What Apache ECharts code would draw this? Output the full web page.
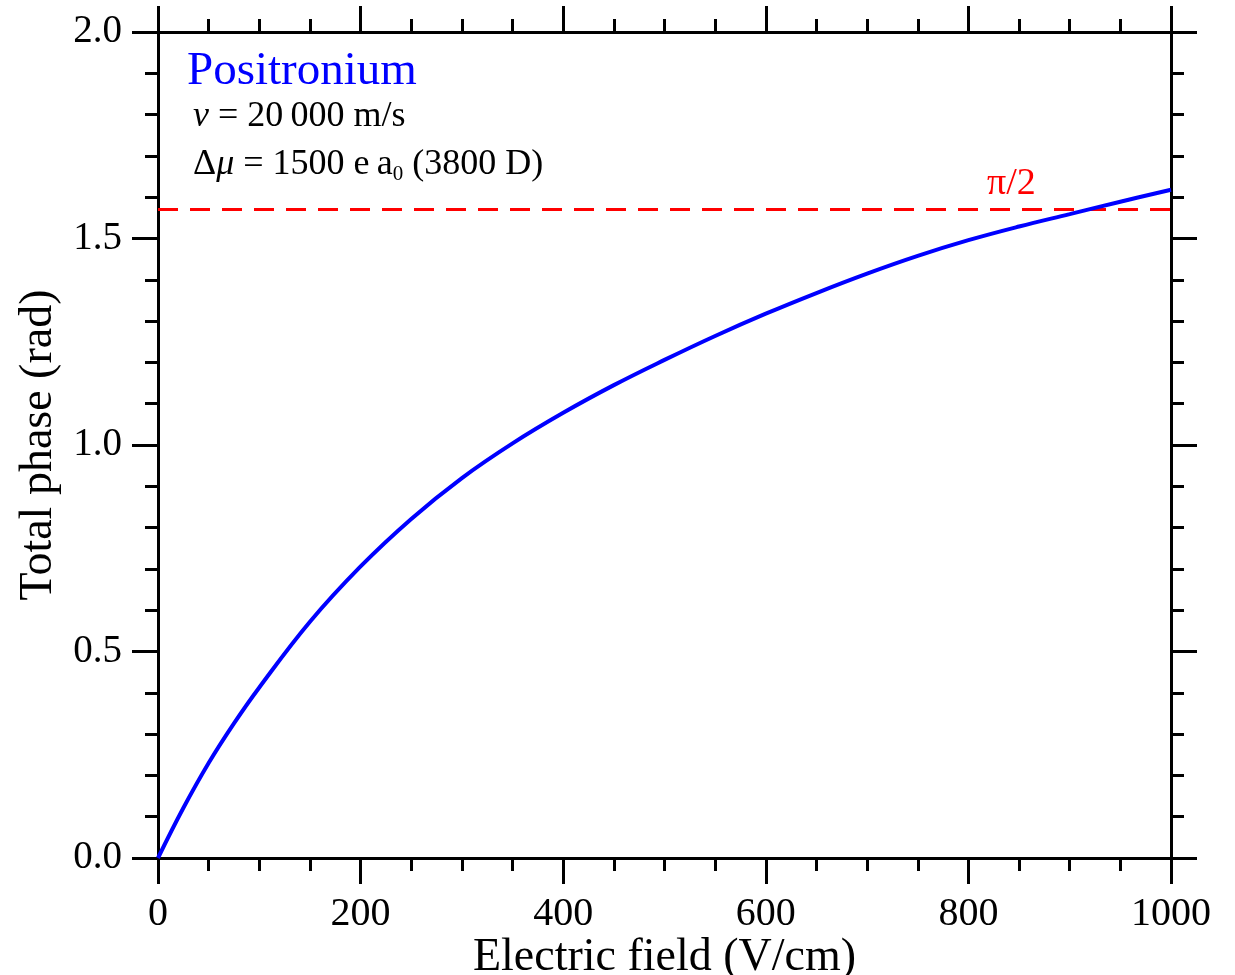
<!DOCTYPE html>
<html>
<head>
<meta charset="utf-8">
<style>
  html, body { margin: 0; padding: 0; background: #fff; overflow: hidden; }
  #chart { width: 1235px; height: 975px; }
</style>
<script src="https://cdn.jsdelivr.net/npm/echarts@6/dist/echarts.min.js"></script>
</head>
<body>
<div id="chart"></div>
<script>
// Electric field (V/cm)
const fields = [0, 25, 50, 75, 100, 150, 200, 250, 300, 350, 400, 450, 500,
                550, 600, 650, 700, 750, 800, 850, 900, 950, 1000];
// Total accumulated phase (rad)
const phase = [0, 0.121, 0.230, 0.326, 0.413, 0.572, 0.706, 0.821, 0.920, 1.004, 1.078,
               1.145, 1.206, 1.264, 1.318, 1.368, 1.415, 1.458, 1.496, 1.529, 1.559,
               1.589, 1.618];
const xTicks = [0, 200, 400, 600, 800, 1000];
const yTicks = [0.0, 0.5, 1.0, 1.5, 2.0];
const halfPi = Math.PI / 2;

const SERIF = '"Liberation Serif", "DejaVu Serif", serif';
const BLACK = '#000';

function axisCommon(extra) {
  return Object.assign({
    axisLine: { show: true, onZero: false, lineStyle: { color: BLACK, width: 3 } },
    axisTick: { show: true, inside: false, length: 26, lineStyle: { color: BLACK, width: 3 } },
    splitLine: { show: false },
    minorSplitLine: { show: false }
  }, extra);
}

function minor(n) {
  return { show: true, splitNumber: n, length: 13, lineStyle: { color: BLACK, width: 3 } };
}

const chart = echarts.init(document.getElementById('chart'), null, { renderer: 'canvas' });

chart.setOption({
  backgroundColor: '#fff',
  animation: false,
  grid: { left: 158, right: 64, top: 32, bottom: 117, outerBoundsMode: 'none', containLabel: false },
  xAxis: [
    axisCommon({
      type: 'value', position: 'bottom', min: xTicks[0], max: xTicks[xTicks.length - 1],
      interval: 200, minorTick: minor(4),
      name: 'Electric field (V/cm)', nameLocation: 'middle', nameGap: 77, nameMoveOverlap: false,
      nameTextStyle: { fontFamily: SERIF, fontSize: 46, color: BLACK },
      axisLabel: { show: true, margin: 36, fontFamily: SERIF, fontSize: 40, color: BLACK,
                   formatter: v => String(v) }
    }),
    axisCommon({
      type: 'value', position: 'top', min: xTicks[0], max: xTicks[xTicks.length - 1],
      interval: 200, minorTick: minor(4),
      axisLabel: { show: false }
    })
  ],
  yAxis: [
    axisCommon({
      type: 'value', position: 'left', min: yTicks[0], max: yTicks[yTicks.length - 1],
      interval: 0.5, minorTick: minor(5),
      name: 'Total phase (rad)', nameLocation: 'middle', nameGap: 96, nameRotate: 90,
      nameTextStyle: { fontFamily: SERIF, fontSize: 46, color: BLACK },
      axisLabel: { show: true, margin: 36, fontFamily: SERIF, fontSize: 39, color: BLACK,
                   formatter: v => v.toFixed(1) }
    }),
    axisCommon({
      type: 'value', position: 'right', min: yTicks[0], max: yTicks[yTicks.length - 1],
      interval: 0.5, minorTick: minor(5),
      axisLabel: { show: false }
    })
  ],
  series: [
    {
      type: 'line',
      xAxisIndex: 0, yAxisIndex: 0,
      data: fields.map((f, i) => [f, phase[i]]),
      smooth: 0.4,
      showSymbol: false,
      lineStyle: { color: '#0000ff', width: 4 },
      z: 3,
      markLine: {
        silent: true,
        symbol: ['none', 'none'],
        label: { show: false },
        lineStyle: { color: '#ff0000', width: 3, type: [20, 12] },
        data: [{ yAxis: halfPi }],
        z: 2
      }
    }
  ],
  graphic: [
    {
      type: 'text', left: 187, top: 48, z: 10,
      style: { text: 'Positronium', font: '47px ' + SERIF, fill: '#0000ff' }
    },
    {
      type: 'text', left: 193, top: 99, z: 10,
      style: {
        text: '{i|v} = 20\u2009000 m/s',
        font: '36px ' + SERIF, fill: BLACK,
        rich: { i: { fontStyle: 'italic', fontSize: 36, fontFamily: SERIF, fill: BLACK } }
      }
    },
    {
      type: 'text', left: 193, top: 145, z: 10,
      style: {
        text: '\u0394{i|\u03bc} = 1500 e\u2009a{sub|0} (3800 D)',
        font: '36px ' + SERIF, fill: BLACK, lineHeight: 40,
        rich: {
          i: { fontStyle: 'italic', fontSize: 36, fontFamily: SERIF, fill: BLACK, lineHeight: 40 },
          sub: { fontSize: 21, fontFamily: SERIF, fill: BLACK, verticalAlign: 'bottom', lineHeight: 22 }
        }
      }
    },
    {
      type: 'text', left: 987, top: 165, z: 10,
      style: { text: '\u03c0/2', font: '38px ' + SERIF, fill: '#ff0000' }
    }
  ]
});
</script>
</body>
</html>
